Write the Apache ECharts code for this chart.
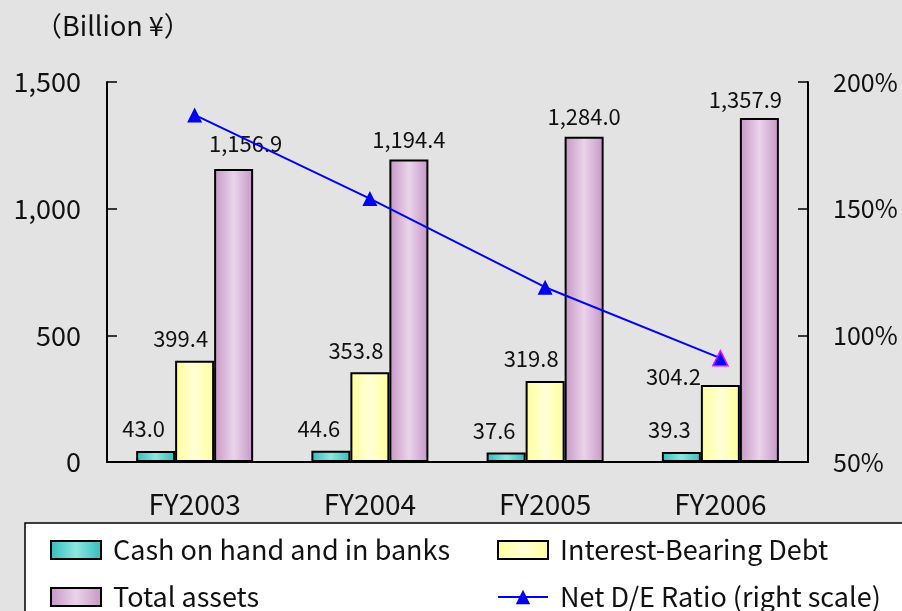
<!DOCTYPE html>
<html>
<head>
<meta charset="utf-8">
<script src="https://cdn.jsdelivr.net/npm/echarts@6/dist/echarts.min.js"></script>
<style>
  html, body { margin: 0; padding: 0; background: #e3e3e3; }
  #main { width: 902px; height: 611px; }
</style>
</head>
<body>
<div id="main"></div>
<script>
const categories = ['FY2003', 'FY2004', 'FY2005', 'FY2006'];
const cash = [43.0, 44.6, 37.6, 39.3];
const debt = [399.4, 353.8, 319.8, 304.2];
const assets = [1156.9, 1194.4, 1284.0, 1357.9];
const deRatio = [187, 154, 119, 91];
const seriesNames = ['Cash on hand and in banks', 'Interest-Bearing Debt', 'Total assets', 'Net D/E Ratio (right scale)'];

const font = '"Noto Sans CJK JP", "Noto Sans", sans-serif';

// label nudges, the original labels were moved by hand
const assetShift = [[12, -9], [0, -4], [0, -4], [-14, -2]];

function grad(edge, mid) {
    return new echarts.graphic.LinearGradient(0, 0, 1, 0, [
        {offset: 0, color: edge},
        {offset: 0.5, color: mid},
        {offset: 1, color: edge}
    ]);
}

function fmt(v) {
    return v.toLocaleString('en-US', {minimumFractionDigits: 1, maximumFractionDigits: 1});
}

const labelBase = {
    show: true,
    position: 'top',
    color: '#111',
    fontFamily: font,
    fontSize: 22,
    formatter: p => fmt(p.value)
};

// legend slots: icon left, row top
const slots = [[50, 535], [497, 535], [50, 582], [497, 582]];

function legendAt(i) {
    const o = {
        left: slots[i][0], top: slots[i][1], padding: 0,
        itemWidth: 50, itemHeight: 18,
        textStyle: {fontSize: 27, lineHeight: 30, color: '#111', fontFamily: font, padding: [0, 0, 0, 7]},
        data: [seriesNames[i]]
    };
    if (i < 3) o.icon = 'rect';
    return o;
}

const chart = echarts.init(document.getElementById('main'));

chart.setOption({
    backgroundColor: '#e3e3e3',
    animation: false,
    textStyle: {fontFamily: font},
    title: {
        text: '（Billion ¥）',
        left: 30,
        top: 7,
        textStyle: {fontSize: 27, fontWeight: 'normal', color: '#111', fontFamily: font}
    },
    graphic: [{
        type: 'rect',
        shape: {x: 25, y: 523, width: 900, height: 100},
        style: {fill: '#fff', stroke: '#000', lineWidth: 1.5},
        z: 0
    }],
    grid: {left: 107, right: 94, top: 82, bottom: 149},
    legend: [0, 1, 2, 3].map(legendAt),
    xAxis: {
        type: 'category',
        data: categories,
        axisLine: {lineStyle: {color: '#000', width: 2}},
        axisTick: {inside: true, length: 10, lineStyle: {color: '#000', width: 1.5}},
        axisLabel: {color: '#111', fontSize: 28, margin: 28, fontFamily: font}
    },
    yAxis: [{
        type: 'value',
        min: 0, max: 1500, interval: 500,
        axisLine: {show: true, lineStyle: {color: '#000', width: 2}},
        axisTick: {show: true, inside: true, length: 10, lineStyle: {color: '#000', width: 1.5}},
        splitLine: {show: false},
        axisLabel: {color: '#111', fontSize: 27, margin: 26, fontFamily: font,
            formatter: v => v.toLocaleString('en-US')}
    }, {
        type: 'value',
        min: 50, max: 200, interval: 50,
        position: 'right',
        axisLine: {show: true, lineStyle: {color: '#000', width: 2}},
        axisTick: {show: true, inside: true, length: 10, lineStyle: {color: '#000', width: 1.5}},
        splitLine: {show: false},
        axisLabel: {color: '#111', fontSize: 25, margin: 25, fontFamily: font,
            formatter: v => v + '%'}
    }],
    series: [{
        name: seriesNames[0],
        type: 'bar',
        barWidth: 39,
        barGap: '0%',
        data: cash,
        itemStyle: {color: grad('#30bcbc', '#8ee6e0'), borderColor: '#000', borderWidth: 2},
        label: Object.assign({}, labelBase, {offset: [-12, -6]})
    }, {
        name: seriesNames[1],
        type: 'bar',
        barWidth: 39,
        barGap: '0%',
        data: debt.map((v, i) => i === 3
            ? {value: v, label: {offset: [-47, 8]}}
            : v),
        itemStyle: {color: grad('#ffff99', '#ffffd8'), borderColor: '#000', borderWidth: 2},
        label: Object.assign({}, labelBase, {offset: [-14, -6]})
    }, {
        name: seriesNames[2],
        type: 'bar',
        barWidth: 39,
        barGap: '0%',
        data: assets.map((v, i) => ({value: v, label: {offset: assetShift[i]}})),
        itemStyle: {color: grad('#c696c6', '#ead4ea'), borderColor: '#000', borderWidth: 2},
        label: labelBase
    }, {
        name: seriesNames[3],
        type: 'line',
        yAxisIndex: 1,
        data: deRatio.map((v, i) => i === 3
            ? {value: v, itemStyle: {borderColor: '#ff00ff', borderWidth: 1.5}}
            : v),
        symbol: 'triangle',
        symbolSize: 15,
        lineStyle: {color: '#0000ff', width: 2},
        itemStyle: {color: '#0000ff'},
        z: 5
    }]
});
</script>
</body>
</html>
